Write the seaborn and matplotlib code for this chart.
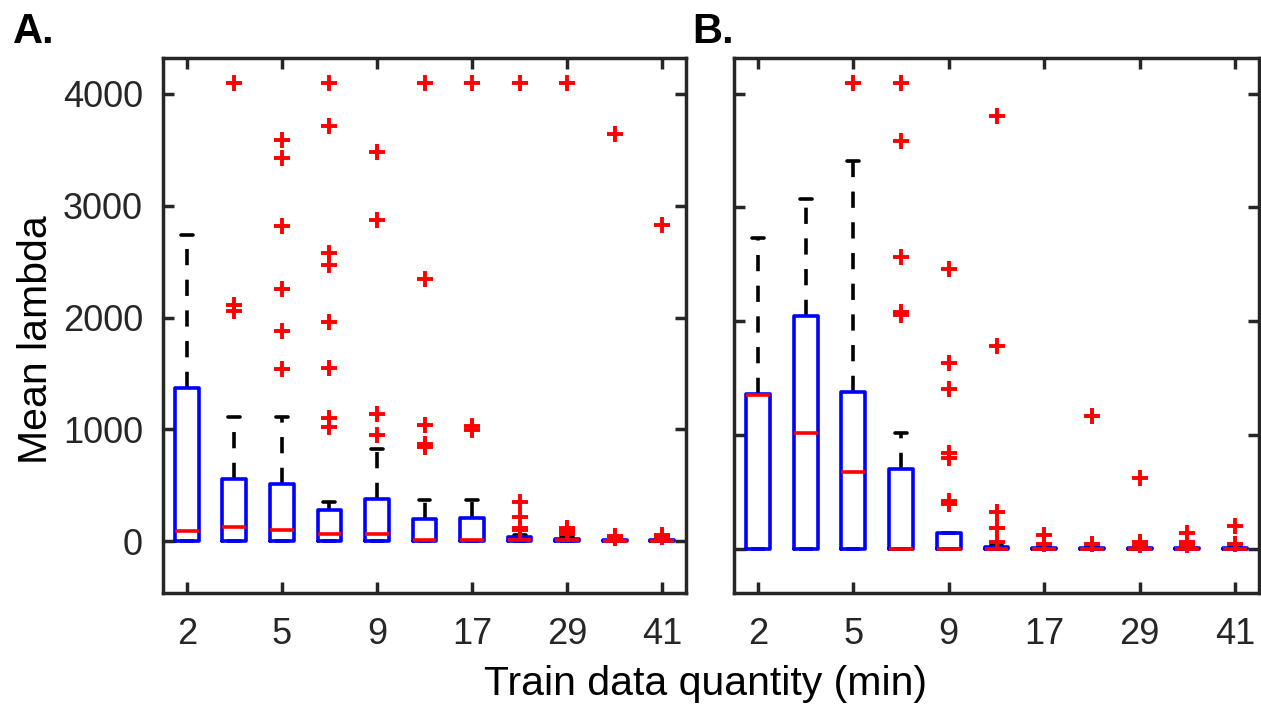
import matplotlib
matplotlib.use("Agg")
import matplotlib.pyplot as plt
import numpy as np
import pandas as pd
import seaborn as sns

# Training durations (minutes); only every other one is labelled on the axis
minutes = ["2", "3", "5", "7", "9", "13", "17", "23", "29", "35", "41"]
tick_minutes = ["2", "5", "9", "17", "29", "41"]

# Panel A: box summary of mean lambda per training duration
a_whislo = [0, 0, 0, 0, 0, 0, 0, 0, 0, 0, 0]
a_q1 = [5, 5, 5, 5, 5, 3, 3, 3, 2, 2, 2]
a_median = [93, 131, 99, 64, 64, 13, 13, 13, 8, 5, 6]
a_q3 = [1371, 559, 514, 278, 374, 195, 204, 38, 22, 12, 14]
a_whishi = [2735, 1109, 1109, 355, 821, 367, 367, 60, 40, 20, 25]
a_outliers = [
    [],
    [4096, 2110, 2060],
    [3585, 3425, 2815, 2259, 1875, 1540],
    [4096, 3712, 2578, 2466, 1962, 1546, 1099, 1019],
    [3482, 2872, 1134, 949],
    [4096, 2345, 1040, 870, 840],
    [4096, 1029, 997],
    [4096, 355, 215, 120, 100],
    [4096, 115, 95, 75, 62],
    [3642, 45, 30],
    [2831, 55, 35],
]

# Panel B: box summary of mean lambda per training duration
b_whislo = [0, 0, 0, 0, 0, 0, 0, 0, 0, 0, 0]
b_q1 = [0, 0, 0, 0, 0, 0, 0, 0, 0, 0, 0]
b_median = [1355, 1015, 676, 0, 0, 0, 0, 0, 0, 0, 0]
b_q3 = [1360, 2049, 1376, 698, 135, 15, 8, 8, 8, 8, 8]
b_whishi = [2734, 3073, 3412, 1015, 135, 30, 15, 15, 15, 15, 15]
b_outliers = [
    [],
    [],
    [4094],
    [4094, 3582, 2561, 2080, 2050],
    [2460, 1634, 1401, 840, 800, 420, 395],
    [3805, 1785, 324, 182, 57],
    [119, 41],
    [1163, 41],
    [622, 57, 30],
    [135, 57, 30],
    [198, 41],
]


def box_sample(lo, q1, med, q3, hi, outliers):
    """Observations whose quartiles, whiskers and outliers equal the given summary."""
    k = len(outliers)
    a = 2 * k + 3
    b = a - k
    return [lo] + [q1] * a + [med] + [q3] * b + [hi] + list(outliers)


rows = []
for panel, lo_s, q1_s, md_s, q3_s, hi_s, out_s in [
    ("A", a_whislo, a_q1, a_median, a_q3, a_whishi, a_outliers),
    ("B", b_whislo, b_q1, b_median, b_q3, b_whishi, b_outliers),
]:
    for m, lo, q1, md, q3, hi, out in zip(minutes, lo_s, q1_s, md_s, q3_s, hi_s, out_s):
        for v in box_sample(lo, q1, md, q3, hi, out):
            rows.append({"panel": panel, "minutes": m, "value": v})
df = pd.DataFrame(rows)

sns.set_theme(style="ticks")
plt.rcParams["font.family"] = ["Liberation Sans", "DejaVu Sans"]

BLUE = "#0000FF"
RED = "#FF0000"
DARK = "#262626"
LW = 2.6

W, H = 1261, 705
fig = plt.figure(figsize=(W / 100, H / 100), dpi=100)
ax_a = fig.add_axes([163 / W, 1 - 593 / H, 523 / W, 535 / H])
ax_b = fig.add_axes([734 / W, 1 - 593 / H, 525 / W, 535 / H])

ylims = {"A": (-463, 4320), "B": (-390, 4314)}

for ax, panel in [(ax_a, "A"), (ax_b, "B")]:
    sub = df[df["panel"] == panel]
    sns.boxplot(
        data=sub, x="minutes", y="value", order=minutes, ax=ax,
        width=0.5, fill=False, color=BLUE, linewidth=LW, whis=1.5,
        boxprops=dict(color=BLUE, linewidth=LW, zorder=3),
        medianprops=dict(color=RED, linewidth=LW, zorder=4),
        whiskerprops=dict(color="black", linewidth=LW,
                          linestyle=(0, (4.5, 4.0)), zorder=2),
        capprops=dict(color="black", linewidth=LW, zorder=2),
        flierprops=dict(marker="+", markersize=11.5, markeredgecolor=RED,
                        markerfacecolor=RED, markeredgewidth=2.8, zorder=5),
    )
    ax.set_xlim(-0.5, 10.5)
    ax.set_ylim(*ylims[panel])
    ax.set_xticks(range(0, 11, 2))
    ax.set_xticklabels(tick_minutes)
    ax.set_yticks([0, 1000, 2000, 3000, 4000])
    ax.set_xlabel("")
    ax.set_ylabel("")
    for s in ax.spines.values():
        s.set_visible(True)
        s.set_color(DARK)
        s.set_linewidth(2.5)
    ax.tick_params(axis="both", direction="in", length=8, width=2.5,
                   top=True, right=True, color=DARK, labelcolor=DARK,
                   labelsize=26)
    ax.tick_params(axis="x", pad=17)
    ax.tick_params(axis="y", pad=14.4)
    ax.grid(False)

ax_b.tick_params(axis="y", labelleft=False)

fig.text(13 / W, 1 - 43 / H, "A.", fontsize=30, fontweight="bold",
         ha="left", va="baseline", color="black")
fig.text(692 / W, 1 - 43 / H, "B.", fontsize=30, fontweight="bold",
         ha="left", va="baseline", color="black")
fig.text(36 / W, 1 - 340 / H, "Mean lambda", fontsize=29.5, rotation=90,
         ha="center", va="center", color="black")
fig.text(706 / W, 1 - 695 / H, "Train data quantity (min)", fontsize=29.5,
         ha="center", va="baseline", color="black")

fig.savefig("out.png", dpi=100)
